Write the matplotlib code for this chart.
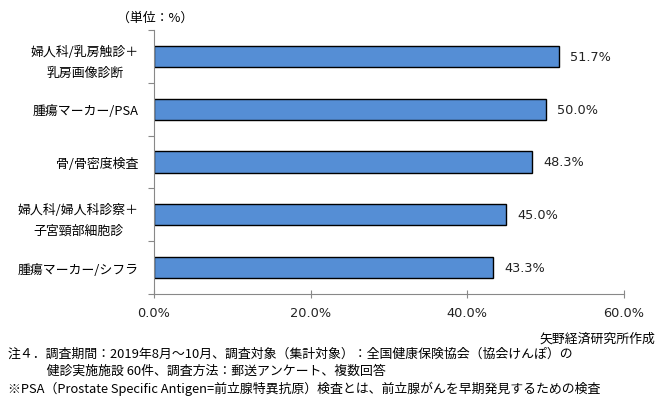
import matplotlib
matplotlib.use("Agg")
import matplotlib.pyplot as plt
from matplotlib.ticker import FixedLocator, PercentFormatter

plt.rcParams["font.family"] = ["Noto Sans CJK JP", "DejaVu Sans"]

categories = [
    "婦人科/乳房触診＋\n乳房画像診断",
    "腫瘍マーカー/PSA",
    "骨/骨密度検査",
    "婦人科/婦人科診察＋\n子宮頸部細胞診",
    "腫瘍マーカー/シフラ",
]
values = [51.7, 50.0, 48.3, 45.0, 43.3]
xticks = [0, 20, 40, 60]

unit_text = "（単位：%）"
source_text = "矢野経済研究所作成"
notes = [
    "注４．調査期間：2019年8月～10月、調査対象（集計対象）：全国健康保険協会（協会けんぽ）の",
    "　　　健診実施施設 60件、調査方法：郵送アンケート、複数回答",
    "※PSA（Prostate Specific Antigen=前立腺特異抗原）検査とは、前立腺がんを早期発見するための検査",
]

W, H = 661, 406
fig = plt.figure(figsize=(W / 100, H / 100), dpi=100)
ax = fig.add_axes([154 / W, 1 - 295 / H, 470 / W, 264 / H])

pos = list(range(len(categories)))
ax.barh(pos, values, height=0.4, color="#558ed5", edgecolor="black", linewidth=1.0)

for p, v in zip(pos, values):
    ax.annotate(f"{v:.1f}%", (v, p), xytext=(8, 0), textcoords="offset points",
                va="center", ha="left", fontsize=9.3, family="DejaVu Sans", color="#222222")

ax.set_xlim(0, 60)
ax.set_ylim(len(categories) - 0.5, -0.5)
ax.set_xticks(xticks)
ax.xaxis.set_major_formatter(PercentFormatter(decimals=1))
ax.tick_params(axis="x", direction="inout", length=6, width=0.8, color="#888888",
               pad=6, labelsize=9.3, labelcolor="#222222")
for lab in ax.get_xticklabels():
    lab.set_family("DejaVu Sans")

ax.set_yticks(pos)
ax.set_yticklabels(categories, fontsize=9.3, multialignment="center", linespacing=1.75)
ax.tick_params(axis="y", which="major", length=0, pad=11)
ax.yaxis.set_minor_locator(FixedLocator([p - 0.5 for p in pos] + [len(pos) - 0.5]))
ax.tick_params(axis="y", which="minor", length=4, width=0.8, color="#888888", direction="out")

for s in ["top", "right"]:
    ax.spines[s].set_visible(False)
for s in ["left", "bottom"]:
    ax.spines[s].set_color("#888888")
    ax.spines[s].set_linewidth(0.8)

fig.text(155 / W, 1 - 18 / H, unit_text, ha="center", va="center", fontsize=9.3)
fig.text(655 / W, 1 - 339 / H, source_text, ha="right", va="center", fontsize=9.3)
for i, line in enumerate(notes):
    fig.text(8 / W, 1 - (354 + i * 17.5) / H, line, ha="left", va="center", fontsize=9.3)

fig.savefig("out.png", dpi=100)
